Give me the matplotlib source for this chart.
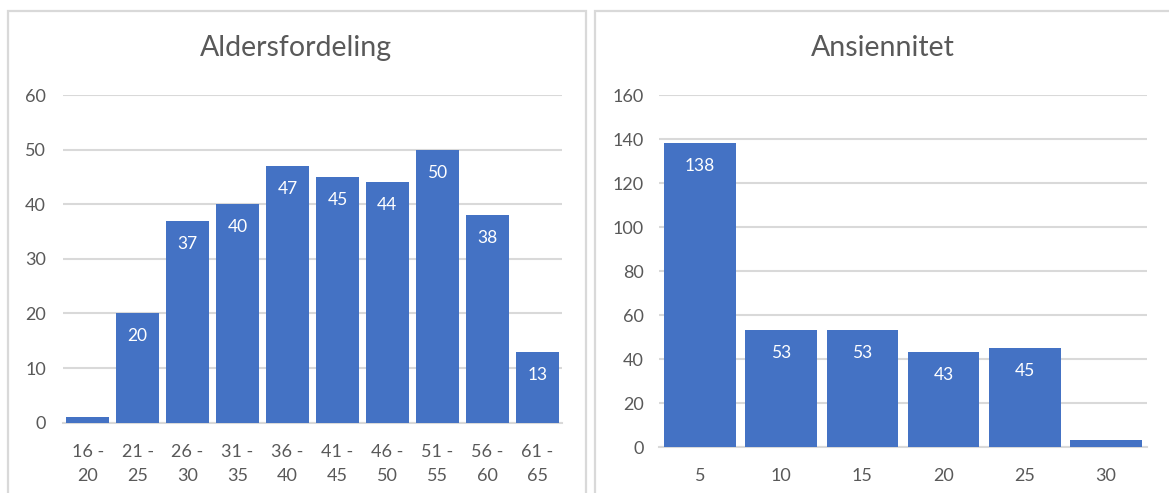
import matplotlib
matplotlib.use('Agg')
import matplotlib.pyplot as plt
from matplotlib.patches import Rectangle

plt.rcParams['font.family'] = ['Lato', 'DejaVu Sans']

# data
age_groups = ['16 -\n20', '21 -\n25', '26 -\n30', '31 -\n35', '36 -\n40',
              '41 -\n45', '46 -\n50', '51 -\n55', '56 -\n60', '61 -\n65']
age_counts = [1, 20, 37, 40, 47, 45, 44, 50, 38, 13]
age_ticks = [0, 10, 20, 30, 40, 50, 60]

seniority = ['5', '10', '15', '20', '25', '30']
seniority_counts = [138, 53, 53, 43, 45, 3]
seniority_ticks = [0, 20, 40, 60, 80, 100, 120, 140, 160]

BAR = '#4472C4'
GRID = '#D9D9D9'
TXT = '#595959'
W, H = 1169, 493

fig = plt.figure(figsize=(W / 100, H / 100), dpi=100)


def px_axes(x0, y_top, width, height):
    # pixel box measured from the top-left corner of the image
    return fig.add_axes([x0 / W, 1 - (y_top + height) / H, width / W, height / H])


def frame(x0, x1, y0):
    r = Rectangle((x0 / W, -0.1), (x1 - x0) / W, 1.1 - y0 / H,
                  transform=fig.transFigure, fill=False, edgecolor=GRID,
                  linewidth=1.6, zorder=0)
    fig.patches.append(r)


def excel_bars(ax, cats, vals, ticks, width, title, title_x, ypad, xpad):
    x = range(len(cats))
    bars = ax.bar(x, vals, width=width, color=BAR, zorder=3)
    ax.set_xlim(-0.5, len(cats) - 0.5)
    ax.set_ylim(0, ticks[-1])
    ax.set_yticks(ticks)
    ax.set_xticks(list(x))
    ax.set_xticklabels(cats, linespacing=1.65)
    ax.yaxis.grid(True, color=GRID, linewidth=1.5, zorder=0)
    ax.set_axisbelow(True)
    for s in ['top', 'right', 'left']:
        ax.spines[s].set_visible(False)
    ax.spines['bottom'].set_color(GRID)
    ax.spines['bottom'].set_linewidth(1.5)
    ax.tick_params(axis='both', length=0, labelsize=13, colors=TXT)
    ax.tick_params(axis='y', pad=ypad)
    ax.tick_params(axis='x', pad=xpad)
    for b, v in zip(bars, vals):
        if v < 5:
            continue
        ax.annotate(str(v), (b.get_x() + b.get_width() / 2, v),
                    xytext=(0, -23), textcoords='offset pixels',
                    ha='center', va='center', color='white', fontsize=12.5)
    fig.text(title_x / W, 1 - 48 / H, title, ha='center', va='center',
             fontsize=20.5, color=TXT)


frame(7.5, 586, 11)
frame(594.5, 1200, 11)

ax1 = px_axes(62.7, 95, 499.5, 327.7)
excel_bars(ax1, age_groups, age_counts, age_ticks, 0.866, 'Aldersfordeling', 296, 12, 15)

ax2 = px_axes(659.3, 95, 487.4, 352)
excel_bars(ax2, seniority, seniority_counts, seniority_ticks, 0.878, 'Ansiennitet', 883, 11, 15)

fig.savefig('out.png', dpi=100, facecolor='white')
